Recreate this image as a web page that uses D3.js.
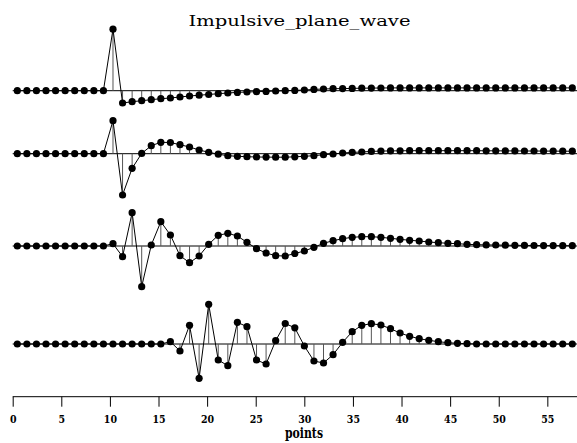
<!DOCTYPE html>
<html>
<head>
<meta charset="utf-8">
<script src="https://cdn.jsdelivr.net/npm/d3@7"></script>
<style>
  html, body { margin: 0; padding: 0; background: #fff; }
  svg { display: block; }
</style>
</head>
<body>
<svg id="chart" width="577" height="443"></svg>
<script>
// Sample numbers along each trace
const samples = d3.range(59);

// Axis ticks
const tickValues = [0, 5, 10, 15, 20, 25, 30, 35, 40, 45, 50, 55];

// Trace baselines (amplitude units, relative to the top trace)
const traceLevels = [0, -6.3, -15.53, -25.33];

// Trace amplitudes, one value per sample
const trace1 = [
  0, 0, 0, 0, 0, 0, 0, 0, 0, 0,
  6.15, -1.23, -1.10, -1.00, -0.90, -0.80, -0.73, -0.63, -0.53, -0.45,
  -0.38, -0.30, -0.23, -0.17, -0.13, -0.10, -0.07, -0.03, 0.00, 0.03,
  0.07, 0.13, 0.17, 0.20, 0.21, 0.23, 0.25, 0.26, 0.27, 0.28,
  0.28, 0.28, 0.28, 0.28, 0.28, 0.28, 0.28, 0.28, 0.28, 0.28,
  0.28, 0.28, 0.28, 0.28, 0.28, 0.28, 0.28, 0.28, 0.28
];
const trace2 = [
  0, 0, 0, 0, 0, 0, 0, 0, 0, 0,
  3.30, -4.13, -1.46, 0.03, 0.80, 1.14, 1.12, 0.90, 0.67, 0.37,
  0.14, -0.05, -0.20, -0.26, -0.30, -0.33, -0.34, -0.35, -0.35, -0.31,
  -0.26, -0.20, -0.10, -0.03, 0.07, 0.13, 0.17, 0.23, 0.26, 0.28,
  0.29, 0.30, 0.30, 0.30, 0.30, 0.30, 0.30, 0.30, 0.30, 0.29,
  0.29, 0.28, 0.28, 0.27, 0.27, 0.26, 0.26, 0.25, 0.25
];
const trace3 = [
  0, 0, 0, 0, 0, 0, 0, 0, 0, 0,
  0.23, -1.07, 3.33, -4.07, 0.10, 2.43, 1.10, -0.97, -1.67, -1.00,
  0.17, 1.07, 1.27, 1.00, 0.37, -0.27, -0.70, -0.97, -1.00, -0.75,
  -0.50, -0.13, 0.27, 0.53, 0.73, 0.87, 0.93, 0.93, 0.87, 0.77,
  0.67, 0.57, 0.50, 0.40, 0.33, 0.27, 0.23, 0.17, 0.13, 0.11,
  0.10, 0.08, 0.07, 0.06, 0.05, 0.04, 0.04, 0.03, 0.03
];
const trace4 = [
  0, 0, 0, 0, 0, 0, 0, 0, 0, 0,
  0, 0, 0, 0, 0, 0, 0.23, -0.70, 1.87, -3.43,
  3.97, -1.60, -2.17, 2.17, 1.73, -1.60, -2.00, 0.33, 2.05, 1.62,
  -0.20, -1.70, -1.90, -1.07, 0.17, 1.23, 1.87, 2.03, 1.90, 1.53,
  1.10, 0.77, 0.53, 0.37, 0.23, 0.13, 0.07, 0.03, 0, 0,
  0, 0, 0, 0, 0, 0, 0, 0, 0
];
const traces = [trace1, trace2, trace3, trace4];

const W = 577, H = 443;
const svg = d3.select("#chart");

// Horizontal scales: axis in "points", samples spread across the plot
const x = d3.scaleLinear().domain([0, 58]).range([12.7, 576.5]);
const xs = d3.scaleLinear().domain([0, 58]).range([17.3, 572.3]);
// Vertical scale: amplitude units, shared by every trace
const y = d3.scaleLinear().domain([9.07, -35.23]).range([0, H]);

// Title
svg.append("text")
  .attr("x", 299.5).attr("y", 25.5)
  .attr("text-anchor", "middle")
  .attr("font-family", "DejaVu Serif")
  .attr("font-size", 15)
  .attr("textLength", 222)
  .attr("lengthAdjust", "spacingAndGlyphs")
  .attr("fill", "#000")
  .text("Impulsive_plane_wave");

const g = svg.append("g");

traces.forEach((vals, k) => {
  const base = traceLevels[k];
  const tg = g.append("g");

  // baseline
  tg.append("line")
    .attr("x1", x(0)).attr("x2", W)
    .attr("y1", y(base)).attr("y2", y(base))
    .attr("stroke", "#000").attr("stroke-width", 1);

  // stems
  tg.selectAll("line.stem").data(samples).join("line")
    .attr("class", "stem")
    .attr("x1", i => xs(i)).attr("x2", i => xs(i))
    .attr("y1", y(base)).attr("y2", i => y(base + vals[i]))
    .attr("stroke", "#555").attr("stroke-width", 1);

  // connecting line
  tg.append("path")
    .datum(samples)
    .attr("d", d3.line().x(i => xs(i)).y(i => y(base + vals[i])))
    .attr("fill", "none").attr("stroke", "#000").attr("stroke-width", 1);

  // sample dots
  tg.selectAll("circle").data(samples).join("circle")
    .attr("cx", i => xs(i)).attr("cy", i => y(base + vals[i]))
    .attr("r", 3.6).attr("fill", "#000");
});

// Bottom axis
const axisY = 396.7;
const axis = svg.append("g").attr("transform", `translate(0,${axisY})`)
  .call(d3.axisBottom(x).tickValues(tickValues).tickSize(10).tickSizeOuter(0).tickPadding(16));
axis.select(".domain").attr("d", `M${x(0)},0H${W}`).attr("stroke", "#000");
axis.selectAll(".tick line").attr("stroke", "#000");
axis.selectAll(".tick text")
  .attr("font-family", "DejaVu Serif")
  .attr("font-weight", "bold")
  .attr("font-stretch", "condensed")
  .attr("font-size", 10.5)
  .attr("fill", "#000")
  .attr("dy", null)
  .attr("y", 26);

svg.append("text")
  .attr("x", 304).attr("y", 438)
  .attr("text-anchor", "middle")
  .attr("font-family", "DejaVu Serif")
  .attr("font-weight", "bold")
  .attr("font-stretch", "condensed")
  .attr("font-size", 15)
  .attr("textLength", 38)
  .attr("lengthAdjust", "spacingAndGlyphs")
  .attr("fill", "#000")
  .text("points");
</script>
</body>
</html>
